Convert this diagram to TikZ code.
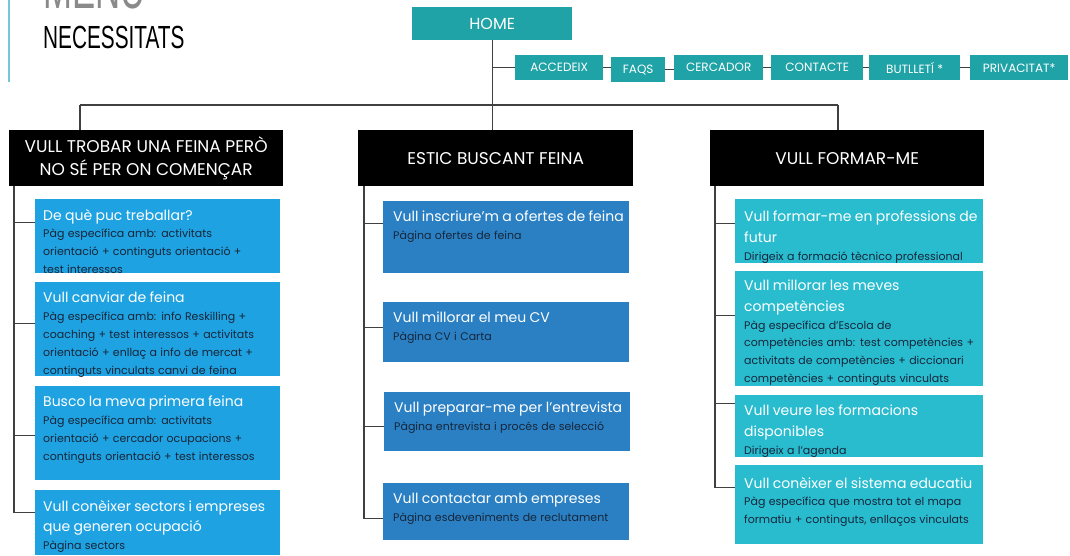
\documentclass[tikz,border=0pt]{standalone}
\usepackage{fontspec}
\setmainfont{Poppins}
\newfontfamily\condfont{Liberation Sans}
\definecolor{tealc}{HTML}{1FA3A6}
\definecolor{lblue}{HTML}{1FA2E1}
\definecolor{mblue}{HTML}{2B80C4}
\definecolor{rcyan}{HTML}{29BCCF}
\definecolor{bodyc}{HTML}{16263A}
\definecolor{linec}{HTML}{404040}
\definecolor{accent}{HTML}{70C8D8}
\definecolor{greyt}{HTML}{8A8A8A}
\newcommand{\bt}[2]{{\fontsize{14}{20.5}\selectfont\color{white}#1\par}{\fontsize{11}{17.8}\selectfont\color{bodyc}#2\par}}
\begin{document}
\begin{tikzpicture}[x=1pt,y=-1pt,
 conn/.style={draw=linec, line width=1.2pt},
 tbox/.style={fill=tealc, text=white, inner sep=0pt, minimum height=25pt, anchor=north west, font=\fontsize{12}{14}\selectfont},
 catbox/.style={fill=black, text=white, inner sep=0pt, minimum height=56pt, anchor=north west, align=center, font=\fontsize{17}{23}\selectfont},
 lbox/.style={fill=lblue, inner sep=0pt, minimum width=245pt, anchor=north west},
 mbox/.style={fill=mblue, inner sep=0pt, minimum width=246pt, anchor=north west},
 rbox/.style={fill=rcyan, inner sep=0pt, minimum width=248pt, anchor=north west},
 txt/.style={anchor=north west, inner sep=0pt, text width=250pt, align=left},
]
\useasboundingbox (0,0) rectangle (1070,555);
\clip (0,0) rectangle (1070,555);
% title
\draw[accent, line width=2pt] (9,0) -- (9,82);
\node[anchor=base west, inner sep=0pt, xscale=0.61, text=greyt, font=\condfont\fontsize{57}{60}\selectfont] (menu) at (43,8) {MENÚ};
\node[anchor=base west, inner sep=0pt, xscale=0.65, text=black, font=\condfont\fontsize{32}{36}\selectfont] (nec) at (43,48) {NECESSITATS};
% home and utility menu
\node[tbox, minimum width=160pt, minimum height=33pt, font=\fontsize{16}{18}\selectfont] (home) at (412,7) {HOME};
\node[tbox, minimum width=88pt] (acc) at (515,55) {ACCEDEIX};
\node[tbox, minimum width=54pt] (faq) at (611,57) {FAQS};
\node[tbox, minimum width=89pt] (cer) at (674,55) {CERCADOR};
\node[tbox, minimum width=92pt] (con) at (771,55) {CONTACTE};
\node[tbox, minimum width=91pt] (but) at (869,55) {BUTLLETÍ *};
\node[tbox, minimum width=98pt] (pri) at (970,55) {PRIVACITAT*};
% categories
\node[catbox, minimum width=274pt] (L) at (9,130) {VULL TROBAR UNA FEINA PERÒ\\NO SÉ PER ON COMENÇAR};
\node[catbox, minimum width=275pt] (M) at (358,130) {ESTIC BUSCANT FEINA};
\node[catbox, minimum width=274pt] (R) at (710,130) {VULL FORMAR-ME};
% content boxes
\node[lbox, minimum height=74pt] (l1) at (35,199) {};
\node[lbox, minimum height=94pt] (l2) at (35,282) {};
\node[lbox, minimum height=94pt] (l3) at (35,386) {};
\node[lbox, minimum height=65pt] (l4) at (35,490) {};
\node[mbox, minimum height=72pt] (m1) at (383,201) {};
\node[mbox, minimum height=60pt] (m2) at (383,302) {};
\node[mbox, minimum height=59pt] (m3) at (384,392) {};
\node[mbox, minimum height=57pt] (m4) at (383,483) {};
\node[rbox, minimum height=64pt] (r1) at (735,199) {};
\node[rbox, minimum height=115pt] (r2) at (735,271) {};
\node[rbox, minimum height=62pt] (r3) at (735,395) {};
\node[rbox, minimum height=79pt] (r4) at (735,465) {};
% texts
\begin{scope}
\clip (l1.north west) rectangle (l1.south east);
\node[txt] (l1t) at ([xshift=8pt,yshift=-10pt]l1.north west) {\bt{De què puc treballar?}{Pàg específica amb: activitats\\orientació + continguts orientació +\\test interessos}};
\end{scope}
\node[txt] (l2t) at ([xshift=8pt,yshift=-10pt]l2.north west) {\bt{Vull canviar de feina}{Pàg específica amb: info Reskilling +\\coaching + test interessos + activitats\\orientació + enllaç a info de mercat +\\continguts vinculats canvi de feina}};
\node[txt] (l3t) at ([xshift=8pt,yshift=-10pt]l3.north west) {\bt{Busco la meva primera feina}{Pàg específica amb: activitats\\orientació + cercador ocupacions +\\continguts orientació + test interessos}};
\node[txt] (l4t) at ([xshift=8pt,yshift=-10pt]l4.north west) {\bt{Vull conèixer sectors i empreses\\que generen ocupació}{Pàgina sectors}};
\node[txt] (m1t) at ([xshift=10pt,yshift=-10pt]m1.north west) {\bt{Vull inscriure’m a ofertes de feina}{Pàgina ofertes de feina}};
\node[txt] (m2t) at ([xshift=10pt,yshift=-10pt]m2.north west) {\bt{Vull millorar el meu CV}{Pàgina CV i Carta}};
\node[txt] (m3t) at ([xshift=10pt,yshift=-10pt]m3.north west) {\bt{Vull preparar-me per l’entrevista}{Pàgina entrevista i procés de selecció}};
\node[txt] (m4t) at ([xshift=10pt,yshift=-10pt]m4.north west) {\bt{Vull contactar amb empreses}{Pàgina esdeveniments de reclutament}};
\node[txt] (r1t) at ([xshift=9pt,yshift=-12pt]r1.north west) {\bt{Vull formar-me en professions de\\futur}{Dirigeix a formació tècnico professional}};
\node[txt] (r2t) at ([xshift=9pt,yshift=-9pt]r2.north west) {\bt{Vull millorar les meves\\competències}{Pàg específica d’Escola de\\competències amb: test competències +\\activitats de competències + diccionari\\competències + continguts vinculats}};
\node[txt] (r3t) at ([xshift=9pt,yshift=-10pt]r3.north west) {\bt{Vull veure les formacions\\disponibles}{Dirigeix a l’agenda}};
\node[txt] (r4t) at ([xshift=9pt,yshift=-12pt]r4.north west) {\bt{Vull conèixer el sistema educatiu}{Pàg específica que mostra tot el mapa\\formatiu + continguts, enllaços vinculats}};
% connectors
\coordinate (lj) at (80,105);
\coordinate (rj) at (838,105);
\draw[conn] (home.south) -- (home.south |- M.north);
\draw[conn] (lj) -- (rj);
\draw[conn] (lj) -- (lj |- L.north);
\draw[conn] (rj) -- (rj |- R.north);
\draw[conn] (home.south) |- (acc.west);
\draw[conn] (acc.east) -- (acc.east -| faq.west);
\draw[conn] (faq.east) -- (faq.east -| cer.west);
\draw[conn] (cer.east) -- (cer.east -| con.west);
\draw[conn] (con.east) -- (con.east -| but.west);
\draw[conn] (but.east) -- (but.east -| pri.west);
\draw[conn] ([xshift=5pt]L.south west) |- ([yshift=14pt]l1.west);
\draw[conn] ([xshift=5pt]L.south west) |- ([yshift=6pt]l2.west);
\draw[conn] ([xshift=5pt]L.south west) |- ([yshift=-2pt]l3.west);
\draw[conn] ([xshift=5pt]L.south west) |- ([yshift=10pt]l4.west);
\draw[conn] ([xshift=6pt]M.south west) |- ([yshift=14pt]m1.west);
\draw[conn] ([xshift=6pt]M.south west) |- ([yshift=5pt]m2.west);
\draw[conn] ([xshift=6pt]M.south west) |- ([yshift=-4.5pt]m3.west);
\draw[conn] ([xshift=6pt]M.south west) |- ([yshift=-6.5pt]m4.west);
\draw[conn] ([xshift=5pt]R.south west) |- ([yshift=8pt]r1.west);
\draw[conn] ([xshift=5pt]R.south west) |- ([yshift=13.5pt]r2.west);
\draw[conn] ([xshift=5pt]R.south west) |- ([yshift=23pt]r3.west);
\draw[conn] ([xshift=5pt]R.south west) |- ([yshift=17.5pt]r4.west);
\end{tikzpicture}
\end{document}
